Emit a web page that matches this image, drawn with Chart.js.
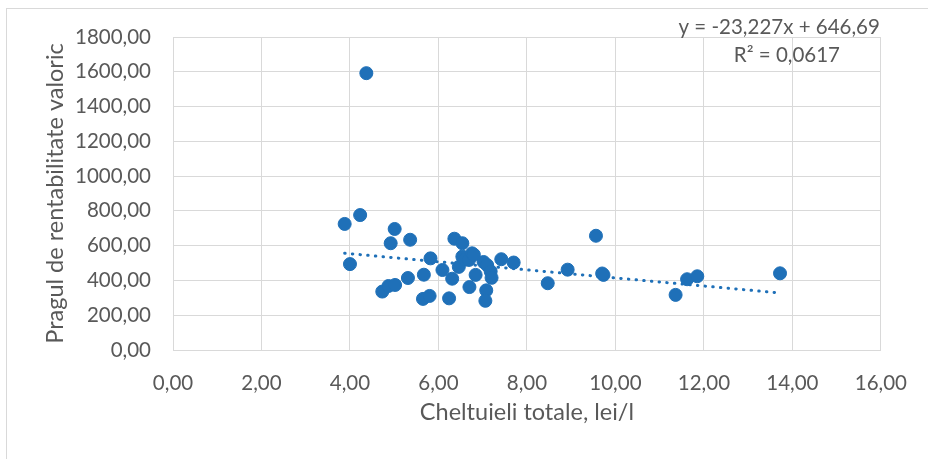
<!DOCTYPE html>
<html>
<head>
<meta charset="utf-8">
<script src="https://cdn.jsdelivr.net/npm/chart.js@4/dist/chart.umd.min.js"></script>
<style>
  html, body { margin: 0; padding: 0; background: #ffffff; }
  #wrap { width: 928px; height: 459px; position: relative; }
</style>
</head>
<body>
<div id="wrap"><canvas id="chart" width="928" height="459"></canvas></div>
<script>
// Scatter: cheltuieli totale (lei/l) vs pragul de rentabilitate valoric
const costX = [
    3.88, 4.23, 4.00, 4.37, 4.73, 4.87, 5.02, 4.92, 5.01, 5.36,
    5.31, 5.67, 5.65, 5.80, 5.82, 6.09, 6.24, 6.31, 6.36, 6.54,
    6.46, 6.54, 6.60, 6.69, 6.76, 6.80, 6.84, 6.70, 7.02, 7.10,
    7.18, 7.20, 7.08, 7.06, 7.42, 7.70, 8.47, 8.92, 9.56, 9.73,
    9.70, 11.36, 11.62, 11.85, 13.72
];
const thresholdY = [
    725, 776, 494, 1592, 336, 368, 374, 614, 696, 634,
    414, 433, 294, 311, 527, 460, 297, 410, 640, 614,
    478, 537, 520, 518, 556, 548, 432, 362, 506, 488,
    452, 415, 343, 283, 522, 503, 384, 462, 657, 432,
    440, 317, 407, 424, 441
];

// linear trendline as shown in the chart label
const trendSlope = -23.227;
const trendIntercept = 646.69;
const trendLabel = 'y = -23,227x + 646,69';
const r2Label = 'R² = 0,0617';

const xTitle = 'Cheltuieli totale, lei/l';
const yTitle = 'Pragul de rentabilitate valoric';

const blue = '#1f70b8';
const fontFamily = 'Lato, "Open Sans", sans-serif';

const points = costX.map((x, i) => ({ x: x, y: thresholdY[i] }));
const xMin = Math.min(...costX);
const xMax = Math.max(...costX);
const trendPoints = [
    { x: xMin, y: trendSlope * xMin + trendIntercept },
    { x: xMax, y: trendSlope * xMax + trendIntercept }
];

const fmt = v => Number(v).toFixed(2).replace('.', ',');

// outer frame + trendline label
const decorPlugin = {
    id: 'decor',
    beforeDraw(chart) {
        const c = chart.ctx;
        c.save();
        c.fillStyle = '#ffffff';
        c.fillRect(0, 0, chart.width, chart.height);
        c.strokeStyle = '#d9d9d9';
        c.lineWidth = 1;
        c.strokeRect(6.5, 8.5, 1200, 1200);
        c.restore();
    },
    afterDraw(chart) {
        const c = chart.ctx;
        const area = chart.chartArea;
        c.save();
        c.fillStyle = '#595959';
        c.font = '20.5px ' + fontFamily;
        c.textBaseline = 'middle';
        c.textAlign = 'right';
        c.fillText(trendLabel, area.right - 1, 27);
        c.textAlign = 'center';
        c.fillText(r2Label, area.right - 94, 55);
        c.restore();
    }
};

new Chart(document.getElementById('chart'), {
    type: 'scatter',
    data: {
        datasets: [{
            label: 'Prag',
            data: points,
            backgroundColor: blue,
            borderColor: blue,
            pointRadius: 6.5,
            pointBorderWidth: 1,
            pointHoverRadius: 6.5
        }, {
            label: 'Trend',
            type: 'line',
            data: trendPoints,
            borderColor: blue,
            borderWidth: 3,
            borderDash: [0.5, 7.2],
            borderCapStyle: 'round',
            pointRadius: 0,
            fill: false
        }]
    },
    options: {
        responsive: false,
        animation: false,
        layout: { padding: { top: 37, right: 44, left: 0, bottom: 0 } },
        plugins: {
            legend: { display: false },
            tooltip: { enabled: false }
        },
        scales: {
            x: {
                type: 'linear',
                min: 0,
                max: 16,
                afterFit: s => { s.height = 109; },
                ticks: {
                    stepSize: 2,
                    color: '#595959',
                    font: { family: fontFamily, size: 20.5 },
                    padding: 21,
                    maxRotation: 0,
                    callback: v => fmt(v)
                },
                grid: { color: '#d9d9d9', lineWidth: 1, drawTicks: false },
                border: { color: '#d9d9d9', width: 1 },
                title: {
                    display: true,
                    text: xTitle,
                    color: '#595959',
                    font: { family: fontFamily, size: 23.5 },
                    padding: { top: 0, bottom: 32 }
                }
            },
            y: {
                min: 0,
                max: 1800,
                afterFit: s => { s.width = 173; },
                ticks: {
                    stepSize: 200,
                    color: '#595959',
                    font: { family: fontFamily, size: 20.5 },
                    padding: 22,
                    callback: v => fmt(v)
                },
                grid: { color: '#d9d9d9', lineWidth: 1, drawTicks: false },
                border: { display: false },
                title: {
                    display: true,
                    text: yTitle,
                    color: '#595959',
                    font: { family: fontFamily, size: 23.5 },
                    padding: { top: 41, bottom: 0 }
                }
            }
        }
    },
    plugins: [decorPlugin]
});
</script>
</body>
</html>
